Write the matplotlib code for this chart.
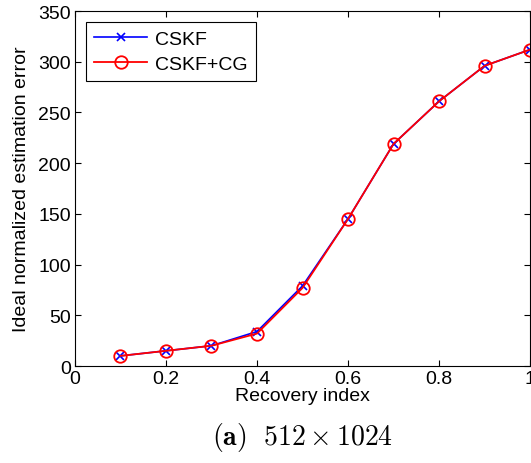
import matplotlib
matplotlib.use('Agg')
import matplotlib.pyplot as plt

# Recovery index vs ideal normalized estimation error
recovery = [0.1, 0.2, 0.3, 0.4, 0.5, 0.6, 0.7, 0.8, 0.9, 1.0]
err_cskf = [10, 15, 20, 34, 79, 145, 219, 261, 296, 312]
err_cskf_cg = [10, 15, 20, 32, 77, 145, 219, 261, 296, 312]

plt.rcParams['font.family'] = ['Liberation Sans', 'DejaVu Sans']
plt.rcParams['mathtext.fontset'] = 'cm'

fig = plt.figure(figsize=(5.31, 4.64), dpi=100)
ax = fig.add_axes([0.1412, 0.209, 0.857, 0.765])

ax.plot(recovery, err_cskf, color='blue', marker='x', markersize=6, linewidth=1.2,
        markeredgewidth=1.2, label='CSKF')
ax.plot(recovery, err_cskf_cg, color='red', marker='o', markersize=9, markerfacecolor='none',
        markeredgewidth=1.3, linewidth=1.3, label='CSKF+CG')

ax.set_xlim(0, 1)
ax.set_ylim(0, 350)
ax.set_xticks([0, 0.2, 0.4, 0.6, 0.8, 1])
ax.set_xticklabels(['0', '0.2', '0.4', '0.6', '0.8', '1'])
ax.set_yticks(range(0, 351, 50))
ax.tick_params(direction='in', labelsize=14, length=4, top=True, right=True, pad=3)
ax.set_xlabel('Recovery index', fontsize=14, labelpad=0)
ax.set_ylabel('Ideal normalized estimation error', fontsize=14, labelpad=6)

leg = ax.legend(loc='upper left', fontsize=14, fancybox=False, edgecolor='black',
                framealpha=1, borderaxespad=0.55, handlelength=2.7, labelspacing=0.35,
                handletextpad=0.4, borderpad=0.45)
leg.get_frame().set_linewidth(0.8)

fig.text(0.569, 0.058, r'$\mathbf{(a)}\ \ 512 \times 1024$', fontsize=20, ha='center', va='center')

fig.savefig('out.png', dpi=100)
